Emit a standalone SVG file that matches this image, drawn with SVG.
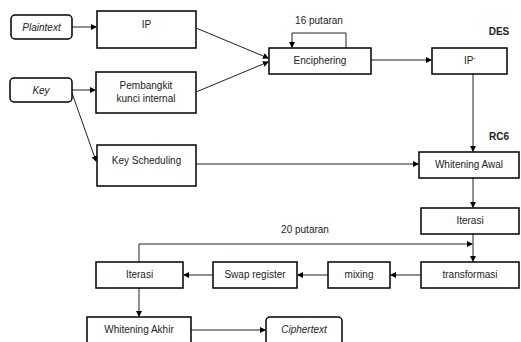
<svg xmlns="http://www.w3.org/2000/svg" width="521" height="342" viewBox="0 0 521 342">
<defs>
<marker id="ah" markerWidth="6" markerHeight="6" refX="5" refY="3" orient="auto" markerUnits="userSpaceOnUse">
<path d="M0,0 L6,3 L0,6 z" fill="#000"/>
</marker>
<style>
.box{fill:#fff;stroke:#000;stroke-width:1.5}
.rb{fill:#fff;stroke:#000;stroke-width:1.5}
.t{font-family:"Liberation Sans",Arial,sans-serif;font-size:10px;fill:#222;text-anchor:middle}
.i{font-style:italic}
.b{font-weight:bold;font-size:10px}
.c{fill:none;stroke:#222;stroke-width:1}
</style>
</defs>
<rect width="521" height="342" fill="#fff"/>
<g id="connectors">
<path class="c" d="M72,27 H96" marker-end="url(#ah)"/>
<path class="c" d="M72,90 H95" marker-end="url(#ah)"/>
<path class="c" d="M72,93 L96,161" marker-end="url(#ah)"/>
<path class="c" d="M196,28 L268,58" marker-end="url(#ah)"/>
<path class="c" d="M196,92 L268,62" marker-end="url(#ah)"/>
<path class="c" d="M346,48 V33 H292 V47" marker-end="url(#ah)"/>
<path class="c" d="M371,60 H431" marker-end="url(#ah)"/>
<path class="c" d="M473,74 V151" marker-end="url(#ah)"/>
<path class="c" d="M196,164 H418" marker-end="url(#ah)"/>
<path class="c" d="M473,178 V207" marker-end="url(#ah)"/>
<path class="c" d="M473,234 V261" marker-end="url(#ah)"/>
<path class="c" d="M139,262 V244 H472" marker-end="url(#ah)"/>
<path class="c" d="M421,275 H391" marker-end="url(#ah)"/>
<path class="c" d="M328,275 H298" marker-end="url(#ah)"/>
<path class="c" d="M213,275 H184" marker-end="url(#ah)"/>
<path class="c" d="M139,288 V316" marker-end="url(#ah)"/>
<path class="c" d="M191,330 H265" marker-end="url(#ah)"/>
</g>
<g id="plaintext"><rect class="rb" x="11" y="15" width="61" height="24" rx="4"/><text class="t i" x="41.5" y="31">Plaintext</text></g>
<g id="ip"><rect class="box" x="97" y="11" width="99" height="37"/><text class="t" x="146.5" y="28">IP</text></g>
<g id="key"><rect class="rb" x="10" y="78" width="62" height="24" rx="4"/><text class="t i" x="41" y="94">Key</text></g>
<g id="pembangkit"><rect class="box" x="96" y="72" width="100" height="41"/><text class="t" x="146" y="89">Pembangkit</text><text class="t" x="146" y="102">kunci internal</text></g>
<g id="keysched"><rect class="box" x="97" y="145" width="99" height="41"/><text class="t" x="146.5" y="164">Key Scheduling</text></g>
<g id="label16"><text class="t" x="319" y="24">16 putaran</text></g>
<g id="enciphering"><rect class="box" x="269" y="48" width="102" height="26"/><text class="t" x="320" y="64">Enciphering</text></g>
<g id="des"><text class="t b" x="499" y="35">DES</text></g>
<g id="ipinv"><rect class="box" x="432" y="48" width="75" height="26"/><text class="t" x="470" y="64">IP<tspan font-size="7" dy="-4">-</tspan></text></g>
<g id="rc6"><text class="t b" x="499" y="140">RC6</text></g>
<g id="whiteningawal"><rect class="box" x="419" y="152" width="100" height="26"/><text class="t" x="469" y="168">Whitening Awal</text></g>
<g id="iterasi1"><rect class="box" x="421" y="208" width="98" height="26"/><text class="t" x="470" y="224">Iterasi</text></g>
<g id="label20"><text class="t" x="305" y="233">20 putaran</text></g>
<g id="transformasi"><rect class="box" x="421" y="262" width="98" height="26"/><text class="t" x="470" y="278">transformasi</text></g>
<g id="mixing"><rect class="box" x="328" y="262" width="62" height="26"/><text class="t" x="359" y="278">mixing</text></g>
<g id="swap"><rect class="box" x="213" y="262" width="84" height="26"/><text class="t" x="255" y="278">Swap register</text></g>
<g id="iterasi2"><rect class="box" x="96" y="262" width="87" height="26"/><text class="t" x="139.5" y="278">Iterasi</text></g>
<g id="whiteningakhir"><rect class="box" x="87" y="317" width="104" height="26"/><text class="t" x="139" y="333">Whitening Akhir</text></g>
<g id="ciphertext"><rect class="rb" x="266" y="317" width="76" height="28" rx="4"/><text class="t i" x="304" y="333">Ciphertext</text></g>
</svg>
